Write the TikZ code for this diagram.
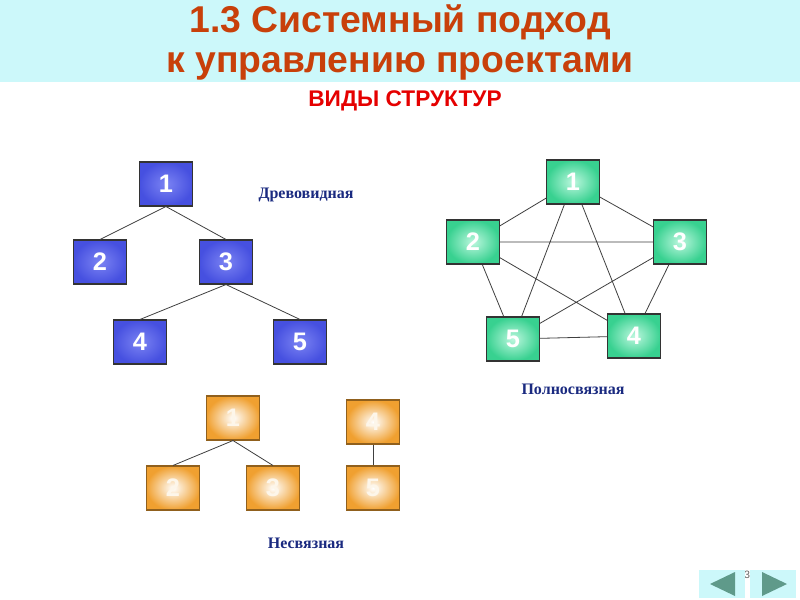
\documentclass[tikz,border=0pt]{standalone}
\usepackage{fontspec}
\usetikzlibrary{backgrounds}
\setmainfont{Liberation Sans}
\newfontfamily\serifb{Liberation Serif}
\definecolor{band}{HTML}{CCF8FA}
\definecolor{ttl}{HTML}{C8400A}
\definecolor{bl}{HTML}{5A64F0}
\definecolor{blo}{HTML}{4650E0}
\definecolor{gr}{HTML}{3EE8A0}
\definecolor{orr}{HTML}{F0A030}
\definecolor{lbl}{HTML}{1A2A80}
\definecolor{navc}{HTML}{5F9A8A}
\tikzset{
 x=0.75pt,y=-0.75pt,
 boxb/.style={draw=black!80,line width=0.8pt,minimum width=40pt,minimum height=33pt,inner sep=0,
   inner color=bl!80!white,outer color=blo,text=white,font=\bfseries\fontsize{19}{19}\selectfont},
 boxg/.style={boxb,inner color=gr!35!white,outer color=gr!90!black},
 boxo/.style={boxb,inner color=white,outer color=orr,draw=orr!60!black,text=white!90!orr},
 edge/.style={draw=black!75,line width=0.6pt},
 lab/.style={font=\serifb\bfseries\fontsize{12}{12}\selectfont,text=lbl},
 ttlf/.style={font=\bfseries\fontsize{28}{28}\selectfont,text=ttl,anchor=base}
}
\begin{document}
\begin{tikzpicture}
\begin{scope}[on background layer]
\fill[white] (0,0) rectangle (800,600);
\end{scope}
\useasboundingbox (0,0) rectangle (800,600);
\fill[band] (0,0) rectangle (800,82);
\node[ttlf] (t1) at (400,32) {1.3 Системный подход};
\node[ttlf] (t2) at (400,72) {к управлению проектами};
\node[font=\bfseries\fontsize{17}{17}\selectfont,text=red!90!black] (t3) at (405,101) {ВИДЫ СТРУКТУР};
% tree
\node[boxb] (a1) at (166,184) {1};
\node[boxb] (a2) at (100,262) {2};
\node[boxb] (a3) at (226,262) {3};
\node[boxb] (a4) at (140,342) {4};
\node[boxb] (a5) at (300,342) {5};
\draw[edge] (a1.south) -- (a2.north);
\draw[edge] (a1.south) -- (a3.north);
\draw[edge] (a3.south) -- (a4.north);
\draw[edge] (a3.south) -- (a5.north);
\node[lab] (la) at (306,195) {Древовидная};
% full
\node[boxg] (b1) at (573,182) {1};
\node[boxg] (b2) at (473,242) {2};
\node[boxg] (b3) at (680,242) {3};
\node[boxg] (b5) at (513,339) {5};
\node[boxg] (b4) at (634,336) {4};
\begin{scope}[on background layer]
\draw[edge] (b1.center) -- (b2.center) (b1.center) -- (b3.center) (b1.center) -- (b4.center) (b1.center) -- (b5.center)
 (b2.center) -- (b3.center) (b2.center) -- (b4.center) (b2.center) -- (b5.center) (b3.center) -- (b4.center) (b3.center) -- (b5.center) (b4.center) -- (b5.center);
\end{scope}
\node[lab] (lb) at (573,389) {Полносвязная};
% disconnected
\node[boxo] (c1) at (233,418) {1};
\node[boxo] (c2) at (173,488) {2};
\node[boxo] (c3) at (273,488) {3};
\node[boxo] (c4) at (373,422) {4};
\node[boxo] (c5) at (373,488) {5};
\draw[edge] (c1.south) -- (c2.north) (c1.south) -- (c3.north);
\draw[edge] (c4) -- (c5);
\node[lab] (lc) at (306,543) {Несвязная};
% nav
\node[font=\fontsize{8}{8}\selectfont,text=black!60] (pg) at (747,575) {3};
\node[fill=band,minimum width=34pt,minimum height=21pt,inner sep=0] (n1) at (722,584) {};
\node[fill=band,minimum width=34pt,minimum height=21pt,inner sep=0] (n2) at (773,584) {};
\fill[navc] (710,584) -- (735,572) -- (735,596) -- cycle;
\fill[navc] (787,584) -- (762,572) -- (762,596) -- cycle;
\end{tikzpicture}
\end{document}
